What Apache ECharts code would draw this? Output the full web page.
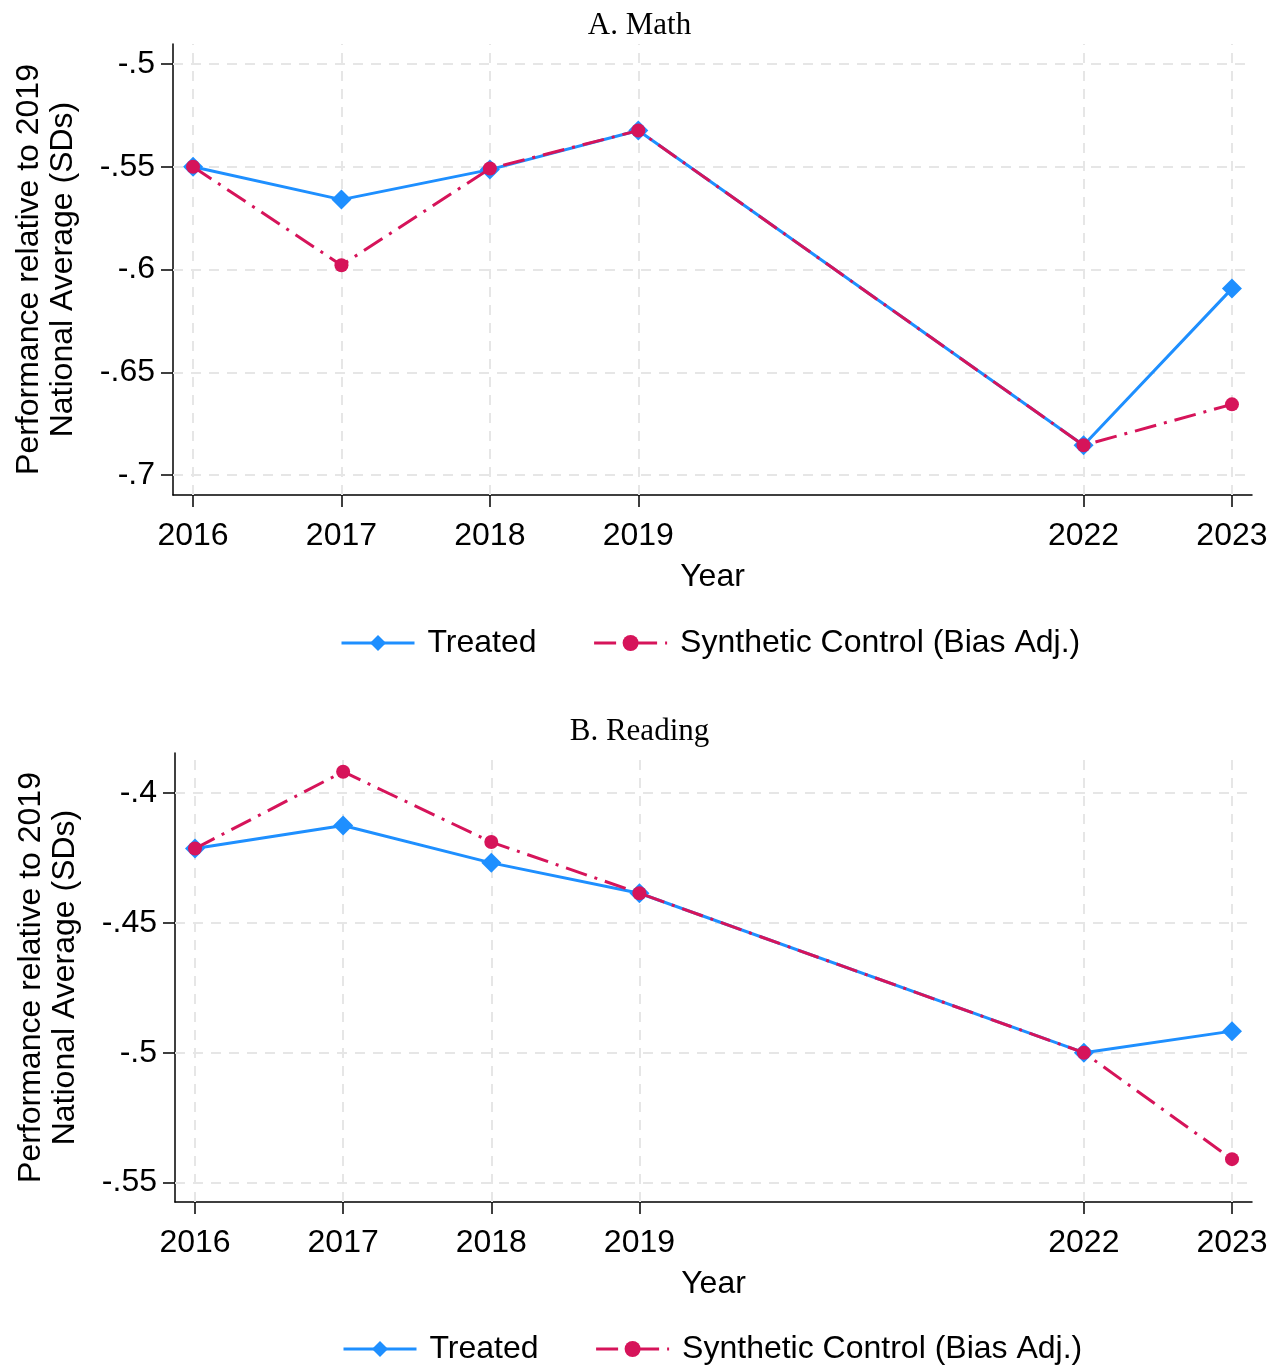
<!DOCTYPE html>
<html>
<head>
<meta charset="utf-8">
<script src="https://cdn.jsdelivr.net/npm/echarts@6/dist/echarts.min.js"></script>
<style>
html, body { margin: 0; padding: 0; background: #fff; }
#main { width: 1279px; height: 1366px; }
</style>
</head>
<body>
<div id="main"></div>
<script>
// data
var years = [2016, 2017, 2018, 2019, 2022, 2023];
var mathTreated = [-0.550, -0.566, -0.5514, -0.5324, -0.6855, -0.6093];
var mathSynth = [-0.550, -0.5979, -0.5509, -0.5324, -0.6855, -0.6656];
var readTreated = [-0.4214, -0.4125, -0.4269, -0.4386, -0.500, -0.4917];
var readSynth = [-0.4214, -0.3918, -0.4189, -0.4386, -0.500, -0.541];
var mathTicks = [-0.7, -0.65, -0.6, -0.55, -0.5];
var readTicks = [-0.55, -0.5, -0.45, -0.4];

var BLUE = '#1e8fff';
var PINK = '#d6145a';
var SANS = "'Liberation Sans', Arial, sans-serif";
var SERIF = "'Liberation Serif', 'Times New Roman', serif";

function pairs(arr) {
    return years.map(function (y, i) { return [y, arr[i]]; });
}

// -.55 style labels
function fmt(v) {
    return String(+v.toFixed(2)).replace('0.', '.');
}

function xAxisFor(gi) {
    return {
        type: 'value', gridIndex: gi, min: 2015.865, max: 2023.135,
        axisLine: { lineStyle: { color: '#000', width: 1.5 } },
        axisTick: { customValues: years, length: 12, lineStyle: { color: '#000', width: 1.5 } },
        axisLabel: {
            customValues: years, color: '#000', fontSize: 32, fontFamily: SANS, margin: 25,
            formatter: function (v) { return String(v); }
        },
        splitLine: { show: false },
        name: 'Year', nameLocation: 'middle', nameGap: 66,
        nameTextStyle: { color: '#000', fontSize: 32, fontFamily: SANS }
    };
}

function yAxisFor(gi, min, max, ticks) {
    return {
        type: 'value', gridIndex: gi, min: min, max: max,
        axisLine: { show: true, lineStyle: { color: '#000', width: 1.5 } },
        axisTick: { show: true, customValues: ticks, length: 12, lineStyle: { color: '#000', width: 1.5 } },
        axisLabel: { customValues: ticks, color: '#000', fontSize: 32, fontFamily: SANS, margin: 18, formatter: fmt },
        splitLine: { show: false },
        name: 'Performance relative to 2019\nNational Average (SDs)',
        nameLocation: 'middle', nameRotate: 90, nameGap: 93,
        nameTextStyle: { color: '#000', fontSize: 32, fontFamily: SANS, lineHeight: 34 }
    };
}

// light dashed grid at the years and the y ticks, kept under the data
function gridSeries(gi, ticks) {
    return {
        type: 'line', xAxisIndex: gi, yAxisIndex: gi, data: [], z: 1, silent: true,
        markLine: {
            z: 1, silent: true, animation: false, symbol: ['none', 'none'],
            label: { show: false },
            lineStyle: { color: '#e6e6e6', type: [10, 8], width: 2 },
            data: years.map(function (y) { return { xAxis: y }; })
                .concat(ticks.map(function (v) { return { yAxis: v }; }))
        }
    };
}

function treated(gi, arr) {
    return {
        name: 'Treated', type: 'line', xAxisIndex: gi, yAxisIndex: gi, z: 3,
        data: pairs(arr), symbol: 'diamond', symbolSize: 20,
        itemStyle: { color: BLUE },
        lineStyle: { color: BLUE, width: 3 }
    };
}

function synth(gi, arr) {
    return {
        name: 'Synthetic Control (Bias Adj.)', type: 'line', xAxisIndex: gi, yAxisIndex: gi, z: 4,
        data: pairs(arr), symbol: 'circle', symbolSize: 14,
        itemStyle: { color: PINK },
        lineStyle: { color: PINK, width: 3, type: [22, 8, 3, 8] }
    };
}

function legendAt(left, top) {
    return {
        left: left, top: top, itemWidth: 73, itemHeight: 20, itemGap: 56,
        data: ['Treated', 'Synthetic Control (Bias Adj.)'],
        lineStyle: { width: 3 },
        textStyle: { color: '#000', fontSize: 32, fontFamily: SANS, padding: [0, 0, 0, 8] }
    };
}

var chart = echarts.init(document.getElementById('main'), null, { renderer: 'canvas' });

var option = {
    backgroundColor: '#fff',
    animation: false,
    title: [
        { text: 'A. Math', left: 'center', top: 5,
          textStyle: { fontFamily: SERIF, fontSize: 31, fontWeight: 'normal', color: '#000' } },
        { text: 'B. Reading', left: 'center', top: 711,
          textStyle: { fontFamily: SERIF, fontSize: 31, fontWeight: 'normal', color: '#000' } }
    ],
    legend: [legendAt(335, 622), legendAt(337, 1328)],
    grid: [
        { left: 173, right: 27, top: 44, height: 451 },
        { left: 175, right: 27, top: 753, height: 449 }
    ],
    xAxis: [xAxisFor(0), xAxisFor(1)],
    yAxis: [
        yAxisFor(0, -0.7097, -0.4903, mathTicks),
        yAxisFor(1, -0.5575, -0.3846, readTicks)
    ],
    series: [
        gridSeries(0, mathTicks),
        gridSeries(1, readTicks),
        treated(0, mathTreated),
        synth(0, mathSynth),
        treated(1, readTreated),
        synth(1, readSynth)
    ]
};

chart.setOption(option);
</script>
</body>
</html>
